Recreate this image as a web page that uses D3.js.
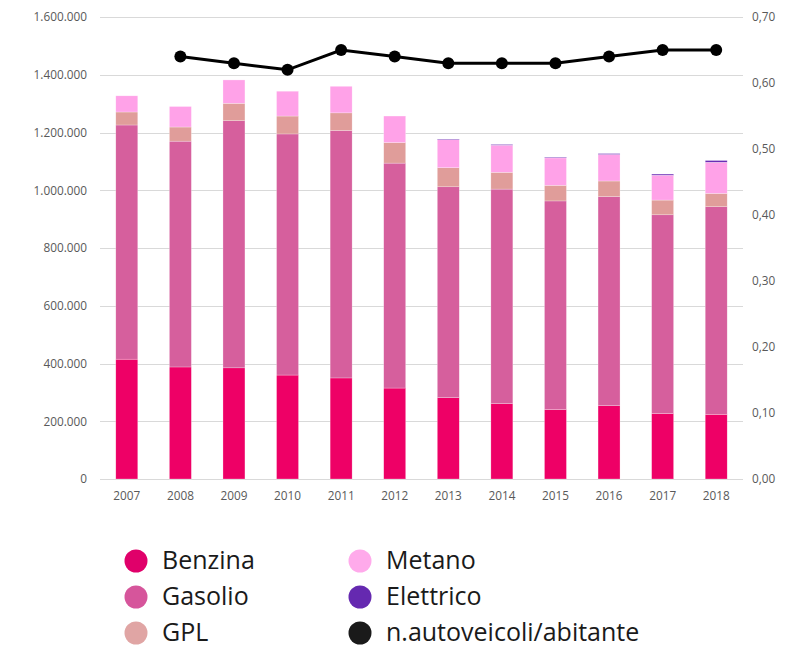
<!DOCTYPE html>
<style>
body { margin: 0; background: #fff; }
text { font-family: "Open Sans", sans-serif; }
.axis .domain { display: none; }
.axis line { display: none; }
.axis text { fill: #595959; font-size: 11.8px; }
</style>
<svg width="799" height="650"></svg>
<script src="https://d3js.org/d3.v7.min.js"></script>
<script>

var years = ["2007","2008","2009","2010","2011","2012","2013","2014","2015","2016","2017","2018"];
var benzina   = [415000, 388000, 385000, 360000, 350000, 315000, 282000, 261000, 241000, 254000, 227000, 224000];
var gasolio   = [811000, 782000, 856000, 835000, 857000, 779000, 730000, 743000, 722000, 724000, 688000, 719000];
var gpl       = [45000, 49000, 60000, 62000, 61000, 71000, 66000, 58000, 54000, 54000, 51000, 46000];
var metano    = [56000, 71000, 81000, 86000, 92000, 92000, 97000, 94000, 95000, 92000, 86000, 108000];
var elettrico = [0, 0, 0, 0, 0, 0, 2000, 2500, 2500, 3000, 4000, 6000];
var ratio     = [null, 0.64, 0.63, 0.62, 0.65, 0.64, 0.63, 0.63, 0.63, 0.64, 0.65, 0.65];

var keys = ["Benzina", "Gasolio", "GPL", "Metano", "Elettrico"];
var barColors = ["#ee0066", "#d65f9d", "#e09d9a", "#ffa2e8", "#6a2db5"];
var legendColors = ["#e0006a", "#d6559b", "#e0a5a4", "#ffaaeb", "#6529b0", "#1a1a1a"];

var svg = d3.select("svg"),
    margin = {top: 17, right: 56, bottom: 171, left: 100},
    width = +svg.attr("width") - margin.left - margin.right,
    height = +svg.attr("height") - margin.top - margin.bottom,
    g = svg.append("g").attr("transform", "translate(" + margin.left + "," + margin.top + ")");

var data = years.map(function(y, i) {
  return {year: y, Benzina: benzina[i], Gasolio: gasolio[i], GPL: gpl[i], Metano: metano[i], Elettrico: elettrico[i]};
});

var x = d3.scaleBand().domain(years).range([0, width]).paddingInner(0.59).paddingOuter(0.295);
var y = d3.scaleLinear().domain([0, 1600000]).range([height, 0]);
var y2 = d3.scaleLinear().domain([0, 0.7]).range([height, 0]);
var z = d3.scaleOrdinal().domain(keys).range(barColors);

var fmt = d3.formatLocale({decimal: ",", thousands: ".", grouping: [3], currency: ["", "€"]});

// gridlines
g.append("g")
    .selectAll("line")
    .data(y.ticks(8))
    .enter().append("line")
      .attr("x1", 0)
      .attr("x2", width)
      .attr("y1", function(d) { return Math.round(y(d)) + 0.5; })
      .attr("y2", function(d) { return Math.round(y(d)) + 0.5; })
      .attr("stroke", "#d9d9d9")
      .attr("stroke-width", 1);

var stack = d3.stack().keys(keys);

g.selectAll(".serie")
  .data(stack(data))
  .enter().append("g")
    .attr("class", "serie")
    .attr("fill", function(d) { return z(d.key); })
  .selectAll("rect")
  .data(function(d) { return d; })
  .enter().append("rect")
    .attr("x", function(d) { return x(d.data.year); })
    .attr("y", function(d) { return y(d[1]); })
    .attr("height", function(d) { return Math.max(0, y(d[0]) - y(d[1])); })
    .attr("width", x.bandwidth())
    .attr("stroke", "#ffffff")
    .attr("stroke-opacity", 0.5)
    .attr("stroke-width", 0.5);

g.append("g")
    .attr("class", "axis axis--x")
    .attr("transform", "translate(0," + height + ")")
    .call(d3.axisBottom(x).tickSize(0).tickPadding(13));

g.append("g")
    .attr("class", "axis axis--y")
    .call(d3.axisLeft(y).ticks(8).tickSize(0).tickPadding(13).tickFormat(fmt.format(",d")));

g.append("g")
    .attr("class", "axis axis--y2")
    .attr("transform", "translate(" + width + ",0)")
    .call(d3.axisRight(y2).ticks(7).tickSize(0).tickPadding(9).tickFormat(fmt.format(".2f")));

// line on secondary axis
var pts = years.map(function(yr, i) { return {year: yr, v: ratio[i]}; }).filter(function(d) { return d.v != null; });

var line = d3.line()
    .x(function(d) { return x(d.year) + x.bandwidth() / 2; })
    .y(function(d) { return y2(d.v); });

g.append("path")
    .datum(pts)
    .attr("fill", "none")
    .attr("stroke", "#000")
    .attr("stroke-width", 3)
    .attr("d", line);

g.selectAll(".dot")
  .data(pts)
  .enter().append("circle")
    .attr("class", "dot")
    .attr("cx", function(d) { return x(d.year) + x.bandwidth() / 2; })
    .attr("cy", function(d) { return y2(d.v); })
    .attr("r", 6)
    .attr("fill", "#000");

// legend
var legendItems = keys.concat(["n.autoveicoli/abitante"]);
var legend = svg.append("g")
  .selectAll("g")
  .data(legendItems)
  .enter().append("g")
    .attr("transform", function(d, i) {
      var col = Math.floor(i / 3), row = i % 3;
      return "translate(" + (136 + col * 224) + "," + (561 + row * 36) + ")";
    });

legend.append("circle")
    .attr("r", 11.5)
    .attr("fill", function(d, i) { return legendColors[i]; });

legend.append("text")
    .attr("x", 26)
    .attr("dy", "0.32em")
    .attr("fill", "#1a1a1a")
    .style("font-size", "25px")
    .text(function(d) { return d; });

</script>
